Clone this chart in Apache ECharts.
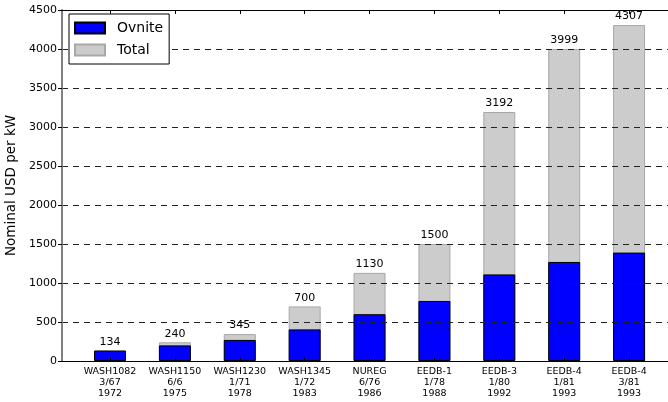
<!DOCTYPE html>
<html>
<head>
<meta charset="utf-8">
<script src="https://cdn.jsdelivr.net/npm/echarts@6/dist/echarts.min.js"></script>
<style>html,body{margin:0;padding:0;background:#fff}#c{width:668px;height:402px}</style>
</head>
<body>
<div id="c"></div>
<script>
var categories = ['WASH1082\n3/67\n1972','WASH1150\n6/6\n1975','WASH1230\n1/71\n1978','WASH1345\n1/72\n1983','NUREG\n6/76\n1986','EEDB-1\n1/78\n1988','EEDB-3\n1/80\n1992','EEDB-4\n1/81\n1993','EEDB-4\n3/81\n1993'];
var totalValues = [134, 240, 345, 700, 1130, 1500, 3192, 3999, 4307];
var ovniteValues = [134, 200, 270, 405, 600, 770, 1110, 1270, 1390];
var yTicks = [0, 500, 1000, 1500, 2000, 2500, 3000, 3500, 4000, 4500];

var idx = categories.map(function(_, i){ return i; });
var FONT = 'DejaVu Sans';
var chart = echarts.init(document.getElementById('c'), null, {renderer: 'canvas'});
chart.setOption({
  animation: false,
  textStyle: {fontFamily: FONT},
  grid: {left: 62, right: 0, top: 10, bottom: 41, containLabel: false, outerBoundsMode: 'none'},
  legend: {
    data: ['Ovnite', 'Total'],
    orient: 'vertical',
    left: 69, top: 14, z: 20,
    borderColor: '#000', borderWidth: 1, borderRadius: 0,
    padding: [7, 6, 7, 5],
    itemWidth: 30, itemHeight: 11, itemGap: 8,
    icon: 'rect',
    textStyle: {fontSize: 14, color: '#000', fontFamily: FONT, padding: [0, 0, 0, 7]},
    backgroundColor: '#fff'
  },
  xAxis: [{
    type: 'value', position: 'bottom', min: -0.74, max: 8.6,
    z: 10,
    splitLine: {show: false},
    axisLine: {show: true, onZero: false, lineStyle: {color: '#000', width: 1}},
    axisTick: {show: true, inside: true, length: 4, customValues: idx, lineStyle: {color: '#000'}},
    axisLabel: {show: true, customValues: idx, margin: 5, fontSize: 9.5, lineHeight: 11, color: '#000', fontFamily: FONT,
      formatter: function(v){ return categories[Math.round(v)]; }}
  }, {
    type: 'value', position: 'top', min: -0.74, max: 8.6,
    z: 10,
    splitLine: {show: false},
    axisLine: {show: true, onZero: false, lineStyle: {color: '#000', width: 1}},
    axisTick: {show: true, inside: true, length: 4, customValues: idx, lineStyle: {color: '#000'}},
    axisLabel: {show: false}
  }],
  yAxis: {
    type: 'value', min: 0, max: 4500, interval: 500,
    z: 5,
    name: 'Nominal USD per kW', nameLocation: 'middle', nameGap: 44, nameMoveOverlap: false,
    nameTextStyle: {fontSize: 13.5, color: '#000', fontFamily: FONT},
    axisLine: {show: true, onZero: false, lineStyle: {color: '#808080', width: 2}},
    axisTick: {show: true, length: 4, lineStyle: {color: '#000'}},
    axisLabel: {fontSize: 11, color: '#000', margin: 5, fontFamily: FONT,
      formatter: function(v){ return String(v); }},
    splitLine: {show: true, lineStyle: {color: '#222', type: [6, 5], width: 1}}
  },
  series: [{
    name: 'Total', type: 'bar', barWidth: 32, barGap: '-100%',
    data: totalValues.map(function(v, i){ return [i, v]; }),
    itemStyle: {color: '#cccccc', borderColor: '#a8a8a8', borderWidth: 1},
    label: {show: true, position: 'top', distance: 3, fontSize: 11, color: '#000', fontFamily: FONT},
    z: 2
  }, {
    name: 'Ovnite', type: 'bar', barWidth: 32, barGap: '-100%',
    data: ovniteValues.map(function(v, i){ return [i, v]; }),
    itemStyle: {color: '#0000ff', borderColor: '#000', borderWidth: 1},
    z: 3
  }]
});
</script>
</body>
</html>
